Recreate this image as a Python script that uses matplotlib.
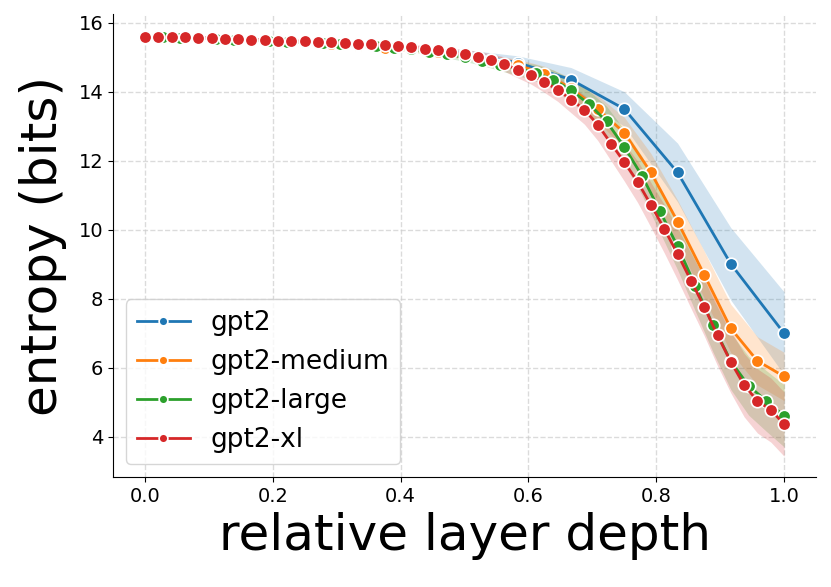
import matplotlib
matplotlib.use('Agg')
import matplotlib.pyplot as pl
import numpy as np

models = ['gpt2', 'gpt2-medium', 'gpt2-large', 'gpt2-xl']
colors = ['#1f77b4', '#ff7f0e', '#2ca02c', '#d62728']

# mean entropy per layer (bits), layers spread evenly over relative depth 0..1
entropy = {
    'gpt2': [15.62, 15.57, 15.52, 15.45, 15.38, 15.28, 15.12, 14.84, 14.35,
             13.50, 11.66, 9.01, 7.00],
    'gpt2-medium': [15.61, 15.57, 15.55, 15.52, 15.50, 15.46, 15.43, 15.39,
                    15.33, 15.26, 15.21, 15.15, 15.05, 14.93, 14.77, 14.52,
                    14.10, 13.51, 12.81, 11.66, 10.24, 8.70, 7.14, 6.20, 5.75],
    'gpt2-large': [15.61, 15.58, 15.56, 15.55, 15.53, 15.51, 15.49, 15.47,
                   15.45, 15.43, 15.41, 15.38, 15.35, 15.32, 15.28, 15.23,
                   15.16, 15.08, 15.00, 14.90, 14.78, 14.67, 14.55, 14.35,
                   14.04, 13.65, 13.14, 12.40, 11.56, 10.55, 9.52, 8.38,
                   7.23, 6.19, 5.48, 5.04, 4.61],
    'gpt2-xl': [15.60, 15.60, 15.58, 15.58, 15.57, 15.55, 15.53, 15.52,
                15.51, 15.50, 15.48, 15.47, 15.46, 15.45, 15.43, 15.41,
                15.39, 15.38, 15.36, 15.33, 15.30, 15.25, 15.21, 15.14,
                15.08, 15.02, 14.92, 14.80, 14.64, 14.49, 14.28, 14.06,
                13.77, 13.48, 13.05, 12.50, 11.96, 11.39, 10.72, 10.03,
                9.30, 8.53, 7.77, 6.94, 6.17, 5.50, 5.04, 4.78, 4.37],
}

# half width of the confidence band around each mean
spread = {
    'gpt2': [0.02, 0.02, 0.03, 0.03, 0.04, 0.06, 0.10, 0.20, 0.35, 0.50,
             0.85, 1.05, 1.20],
    'gpt2-medium': [0.02, 0.02, 0.02, 0.02, 0.03, 0.03, 0.03, 0.04, 0.04,
                    0.05, 0.06, 0.08, 0.10, 0.13, 0.17, 0.22, 0.30, 0.38,
                    0.45, 0.55, 0.62, 0.68, 0.70, 0.70, 0.70],
    'gpt2-large': [0.02, 0.02, 0.02, 0.02, 0.02, 0.03, 0.03, 0.03, 0.03,
                   0.04, 0.04, 0.04, 0.05, 0.05, 0.06, 0.07, 0.08, 0.10,
                   0.12, 0.14, 0.17, 0.20, 0.24, 0.28, 0.33, 0.38, 0.44,
                   0.50, 0.56, 0.62, 0.68, 0.74, 0.78, 0.82, 0.85, 0.88,
                   0.90],
    'gpt2-xl': [0.02, 0.02, 0.02, 0.02, 0.02, 0.02, 0.03, 0.03, 0.03,
                0.03, 0.03, 0.04, 0.04, 0.04, 0.05, 0.05, 0.05, 0.06,
                0.06, 0.07, 0.08, 0.09, 0.10, 0.12, 0.14, 0.16, 0.18,
                0.21, 0.24, 0.27, 0.30, 0.34, 0.38, 0.42, 0.46, 0.50,
                0.55, 0.60, 0.65, 0.70, 0.75, 0.80, 0.84, 0.88, 0.90,
                0.92, 0.93, 0.93, 0.93],
}


def main():
    fig = pl.figure(figsize=(8.31, 5.87), dpi=100)
    ax = fig.add_axes([0.136, 0.187, 0.846, 0.789])

    for name, color in zip(models, colors):
        y = np.array(entropy[name])
        s = np.array(spread[name])
        x = np.linspace(0, 1, len(y))
        ax.fill_between(x, y - s, y + s, color=color, alpha=0.2, linewidth=0)
        ax.plot(x, y, color=color, linewidth=2, marker='o', markersize=9,
                markeredgecolor='white', markeredgewidth=1.2, label=name)

    ax.grid(True, linestyle='--', color='#cccccc', alpha=0.7, linewidth=1)
    ax.set_axisbelow(True)
    ax.spines['top'].set_visible(False)
    ax.spines['right'].set_visible(False)
    ax.tick_params(labelsize=14)
    ax.set_xlabel('relative layer depth', fontsize=36, labelpad=4)
    ax.set_ylabel('entropy (bits)', fontsize=36, labelpad=8)
    ax.set_xticks([0.0, 0.2, 0.4, 0.6, 0.8, 1.0])
    ax.set_yticks([4, 6, 8, 10, 12, 14, 16])

    ax.legend(loc='lower left', fontsize=19, markerscale=0.7)

    pl.savefig('out.png', dpi=100)


if __name__ == '__main__':
    main()
